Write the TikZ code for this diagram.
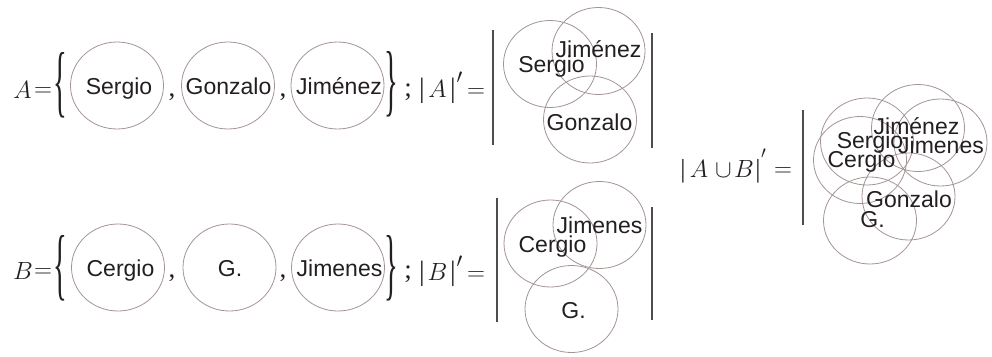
\documentclass[tikz,border=0pt]{standalone}
\usepackage{fontspec}
\usepackage{graphicx}
\setmainfont{Liberation Serif}
\setsansfont{Liberation Sans}
\usetikzlibrary{shapes.geometric}
\definecolor{circ}{HTML}{A39393}
\definecolor{ink}{HTML}{231F20}
\definecolor{barc}{HTML}{4D4D4D}
\newcommand{\fs}[1]{\fontsize{#1}{#1}\selectfont}
\newcommand{\tallbrace}[1]{\scalebox{1.1}[3.05]{#1}}
\begin{document}
\begin{tikzpicture}[x=1pt,y=-1pt,
  ell/.style={draw=circ, line width=0.8pt, ellipse, minimum width=93pt, minimum height=87pt, inner sep=0pt},
  lbl/.style={font=\sffamily\fs{23}, text=ink, anchor=base, inner sep=0pt},
  tm/.style={text=ink, anchor=base, inner sep=0pt},
  brc/.style={font=\fs{26}, text=ink, inner sep=0pt},
  vbar/.style={draw=barc, line width=1.8pt}]
\useasboundingbox (0,0) rectangle (992,356);
% ---------- Row A ----------
\node[tm, font=\fs{25}] (AA) at (22.5,98) {$A$};
\node[tm, font=\fs{28}] (Aeq) at (43,96) {$=$};
\node[brc] (Alb) at (60,85) {\tallbrace{\{}};
\node[ell] (a1) at (117,85.5) {};
\node[ell] (a2) at (228,85.5) {};
\node[ell] (a3) at (337.5,85.5) {};
\node[lbl] (ta1) at (119,94) {Sergio};
\node[lbl] (ta2) at (228.5,94) {Gonzalo};
\node[lbl] (ta3) at (339,94) {Jiménez};
\node[tm, font=\fs{27}] (ac1) at (172,96) {,};
\node[tm, font=\fs{27}] (ac2) at (283,96) {,};
\node[brc] (Arb) at (391,84.5) {\tallbrace{\}}};
\node[tm, font=\fs{27}] (Asc) at (408,96) {;};
\node[tm, font=\fs{28}] (Ab1) at (422,97) {|};
\node[tm, font=\fs{30}] (AA2) at (437.5,97) {$A$};
\node[tm, font=\fs{28}] (Ab2) at (453,97) {|};
\node[text=ink, inner sep=0pt, font=\fs{20}] (Apr) at (459.5,78) {$\prime$};
\node[tm, font=\fs{28}] (Aeq2) at (476,97) {$=$};
\draw[vbar] (493,30) coordinate (Abl1) -- (493,145) coordinate (Abl2);
\draw[vbar] (652,33) coordinate (Abr1) -- (652,148) coordinate (Abr2);
\node[ell] (pa1) at (550,64) {};
\node[ell] (pa2) at (598.5,51) {};
\node[ell] (pa3) at (590,119.5) {};
\node[lbl] (tpa2) at (598.5,57) {Jiménez};
\node[lbl] (tpa1) at (551.5,72) {Sergio};
\node[lbl] (tpa3) at (589.5,130) {Gonzalo};
% ---------- Row B ----------
\node[tm, font=\fs{25}] (BB) at (23,279) {$B$};
\node[tm, font=\fs{28}] (Beq) at (43,277.5) {$=$};
\node[brc] (Blb) at (60,268.5) {\tallbrace{\{}};
\node[ell] (b1) at (118,267.5) {};
\node[ell] (b2) at (229.5,267.5) {};
\node[ell] (b3) at (338,267.5) {};
\node[lbl] (tb1) at (120.5,276) {Cergio};
\node[lbl] (tb2) at (230,276) {G.};
\node[lbl] (tb3) at (339.5,276) {Jimenes};
\node[tm, font=\fs{27}] (bc1) at (172,277) {,};
\node[tm, font=\fs{27}] (bc2) at (283,277) {,};
\node[brc] (Brb) at (391,268.5) {\tallbrace{\}}};
\node[tm, font=\fs{27}] (Bsc) at (408,278) {;};
\node[tm, font=\fs{28}] (Bb1) at (422,280.5) {|};
\node[tm, font=\fs{30}] (BB2) at (437.5,280.5) {$B$};
\node[tm, font=\fs{28}] (Bb2) at (453,280.5) {|};
\node[text=ink, inner sep=0pt, font=\fs{20}] (Bpr) at (459.5,261.5) {$\prime$};
\node[tm, font=\fs{28}] (Beq2) at (476,280.5) {$=$};
\draw[vbar] (497,198) coordinate (Bbl1) -- (497,322) coordinate (Bbl2);
\draw[vbar] (652,207) coordinate (Bbr1) -- (652,320) coordinate (Bbr2);
\node[ell] (pb1) at (550.5,243.5) {};
\node[ell] (pb2) at (599.5,225) {};
\node[ell] (pb3) at (571.5,309) {};
\node[lbl] (tpb2) at (599.5,233) {Jimenes};
\node[lbl] (tpb1) at (552.5,252) {Cergio};
\node[lbl] (tpb3) at (573.5,318) {G.};
% ---------- Union ----------
\node[tm, font=\fs{26}] (Ub1) at (683,177) {|};
\node[tm, font=\fs{27}] (UA) at (699,177) {$A$};
\node[tm, font=\fs{24}] (Ucup) at (723.5,177) {$\cup$};
\node[tm, font=\fs{27}] (UB) at (744,177) {$B$};
\node[tm, font=\fs{26}] (Ub2) at (758,177) {|};
\node[text=ink, inner sep=0pt, font=\fs{18}] (Upr) at (763.5,154) {$\prime$};
\node[tm, font=\fs{28}] (Ueq) at (783,176) {$=$};
\draw[vbar] (803,110) coordinate (Ubl1) -- (803,225) coordinate (Ubl2);
\node[ell] (u1) at (918,128) {};
\node[ell] (u2) at (867,141.5) {};
\node[ell] (u3) at (940.5,142.5) {};
\node[ell] (u4) at (860,160) {};
\node[ell] (u5) at (908.5,196.5) {};
\node[ell] (u6) at (870,220.5) {};
\node[lbl] (tu1) at (916.5,134) {Jiménez};
\node[lbl] (tu2) at (870,148) {Sergio};
\node[lbl] (tu3) at (941,153) {Jimenes};
\node[lbl] (tu4) at (861.5,167) {Cergio};
\node[lbl] (tu5) at (909,207) {Gonzalo};
\node[lbl] (tu6) at (872.5,227) {G.};
\end{tikzpicture}
\end{document}
